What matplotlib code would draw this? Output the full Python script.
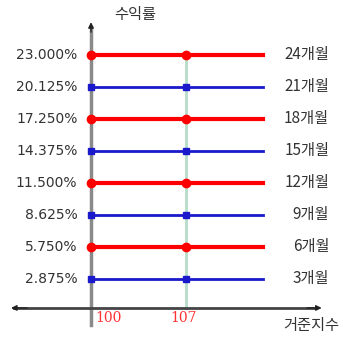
import numpy as np
import matplotlib.pyplot as plt

plt.rcParams['font.family'] = ['Noto Sans CJK KR', 'DejaVu Sans']

# data
months = ['3개월', '6개월', '9개월', '12개월', '15개월', '18개월', '21개월', '24개월']
rates = [2.875, 5.750, 8.625, 11.500, 14.375, 17.250, 20.125, 23.000]
rate_labels = ['2.875%', '5.750%', '8.625%', '11.500%', '14.375%', '17.250%', '20.125%', '23.000%']
x_ticks = [100, 107]
x_end = 112.7

fig = plt.figure(figsize=(3.47, 3.38), dpi=100)
ax = fig.add_axes([0, 0, 1, 1])
ax.set_xlim(93.295, 118.86)
ax.set_ylim(-2.43, 27.94)
ax.axis('off')

# green guide line at 107
ax.plot([107, 107], [0.27, 23], color='#b5dcc8', lw=2, zorder=1)

# axes with arrows
ax.plot([100, 100], [-1.26, 25.5], color='#8a8a8a', lw=2.5, zorder=2)
ax.annotate('', xy=(100, 26.2), xytext=(100, 24.8),
            arrowprops=dict(arrowstyle='-|>', color='#222222', lw=1, mutation_scale=8))
ax.plot([94.3, 116.6], [0.27, 0.27], color='#444444', lw=2, zorder=2)
ax.annotate('', xy=(93.9, 0.27), xytext=(95.5, 0.27),
            arrowprops=dict(arrowstyle='-|>', color='#222222', lw=1, mutation_scale=8))
ax.annotate('', xy=(117.2, 0.27), xytext=(115.7, 0.27),
            arrowprops=dict(arrowstyle='-|>', color='#222222', lw=1, mutation_scale=8))

for i, (r, lab, m) in enumerate(zip(rates, rate_labels, months)):
    red = (i % 2 == 1)
    c = '#ff0000' if red else '#1a1acc'
    lw = 3 if red else 2
    ax.plot([100, x_end], [r, r], color=c, lw=lw, zorder=3)
    ax.plot([100, 107], [r, r], ls='none', marker='o' if red else 's',
            color=c, ms=6 if red else 5, zorder=4)
    ax.text(99.0, r, lab, ha='right', va='center', fontsize=10, color='#333333',
            family='DejaVu Sans')
    ax.text(117.55, r, m, ha='right', va='center', fontsize=11, color='#333333')

for t in x_ticks:
    ax.text(t + 0.3 if t == 100 else t - 0.15, -0.63, str(t),
            ha='left' if t == 100 else 'center',
            va='center', fontsize=10, color='#ff3333', family='DejaVu Serif')

ax.text(103.25, 26.6, '수익률', ha='center', va='center', fontsize=11, color='#333333')
ax.text(116.2, -1.3, '거준지수', ha='center', va='center', fontsize=11, color='#333333')

fig.savefig('out.png', dpi=100)
